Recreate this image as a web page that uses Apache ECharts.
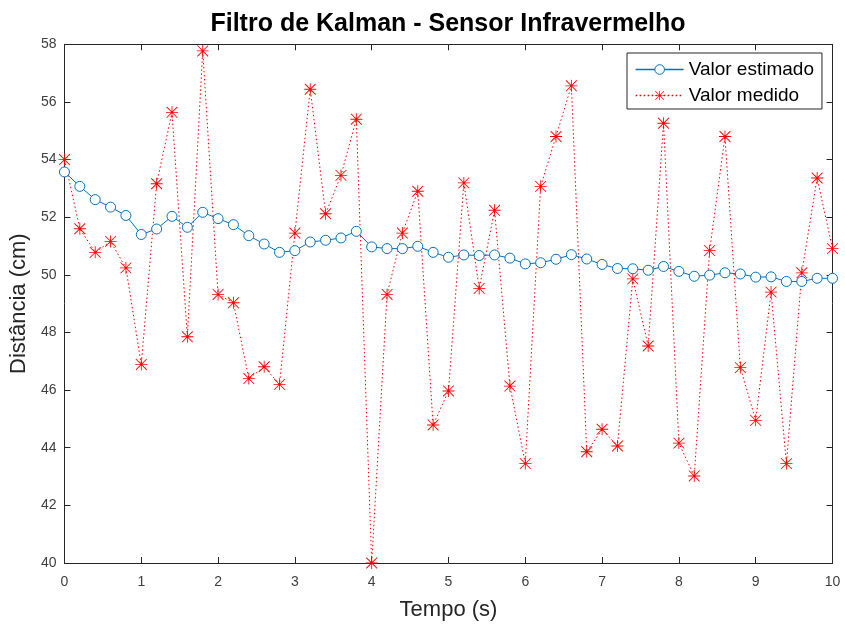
<!DOCTYPE html>
<html><head><meta charset="utf-8">
<script src="https://cdn.jsdelivr.net/npm/echarts@6/dist/echarts.min.js"></script>
<style>html,body{margin:0;padding:0;background:#fff}#c{width:845px;height:626px}</style>
</head><body><div id="c"></div>
<script>
const time = [0,0.2,0.4,0.6,0.8,1,1.2,1.4,1.6,1.8,2,2.2,2.4,2.6,2.8,3,3.2,3.4,3.6,3.8,4,4.2,4.4,4.6,4.8,5,5.2,5.4,5.6,5.8,6,6.2,6.4,6.6,6.8,7,7.2,7.4,7.6,7.8,8,8.2,8.4,8.6,8.8,9,9.2,9.4,9.6,9.8,10];
const estimado = [53.57,53.07,52.61,52.35,52.06,51.40,51.59,52.03,51.65,52.17,51.95,51.74,51.36,51.07,50.78,50.84,51.14,51.20,51.28,51.51,50.97,50.91,50.91,50.99,50.78,50.61,50.69,50.67,50.69,50.58,50.38,50.42,50.54,50.70,50.55,50.36,50.22,50.21,50.16,50.29,50.12,49.95,49.99,50.07,50.03,49.92,49.93,49.77,49.77,49.88,49.88];
const medido = [54.0,51.60,50.78,51.16,50.24,46.89,53.16,55.64,47.85,57.77,49.32,49.03,46.40,46.81,46.20,51.45,56.44,52.12,53.45,55.40,40.0,49.32,51.45,52.90,44.79,45.97,53.19,49.53,52.24,46.14,43.45,53.07,54.80,56.56,43.86,44.64,44.06,49.86,47.53,55.26,44.16,43.02,50.84,54.80,46.78,44.95,49.40,43.45,50.07,53.36,50.91];
const xTicks = [0,1,2,3,4,5,6,7,8,9,10];
const yTicks = [40,42,44,46,48,50,52,54,56,58];

const star = 'path://M9.3 0 L10.7 0 L10.7 20 L9.3 20 Z M0 9.3 L20 9.3 L20 10.7 L0 10.7 Z M1.5 0.5 L19.5 18.5 L18.5 19.5 L0.5 1.5 Z M18.5 0.5 L19.5 1.5 L1.5 19.5 L0.5 18.5 Z';
const axisColor = '#262626';
const labelColor = '#404040';
const blue = '#0072BD';
const red = '#FF0000';
const font = 'Liberation Sans, Arial, Helvetica, sans-serif';

const chart = echarts.init(document.getElementById('c'), null, {renderer: 'canvas'});
const xAxisBase = {
  type: 'value', min: xTicks[0], max: xTicks[xTicks.length-1], interval: 1,
  axisLine: {show: true, onZero: false, lineStyle: {color: axisColor, width: 1}},
  axisTick: {show: true, inside: true, length: 6, lineStyle: {color: axisColor}},
  splitLine: {show: false}
};
const yAxisBase = {
  type: 'value', min: yTicks[0], max: yTicks[yTicks.length-1], interval: 2,
  axisLine: {show: true, onZero: false, lineStyle: {color: axisColor, width: 1}},
  axisTick: {show: true, inside: true, length: 6, lineStyle: {color: axisColor}},
  splitLine: {show: false}
};
chart.setOption({
  animation: false,
  backgroundColor: '#fff',
  title: {
    text: 'Filtro de Kalman - Sensor Infravermelho',
    left: 443, top: 7, textAlign: 'center',
    textStyle: {fontFamily: font, fontSize: 25, fontWeight: 'bold', color: '#000'}
  },
  legend: {
    orient: 'vertical', left: 627, top: 53,
    itemWidth: 48, itemHeight: 12, itemGap: 7,
    padding: [7, 8, 4, 8],
    borderColor: axisColor, borderWidth: 1, backgroundColor: '#fff', borderRadius: 0,
    textStyle: {fontFamily: font, fontSize: 19, color: '#000'},
    data: [
      {name: 'Valor estimado', itemStyle: {color: '#fff', borderColor: blue, borderWidth: 1},
       lineStyle: {color: blue, width: 1.3, type: 'solid'}},
      {name: 'Valor medido', itemStyle: {color: red},
       lineStyle: {color: red, width: 1.3, type: [1.5, 2.5]}}
    ]
  },
  grid: {left: 63.5, right: 12.5, top: 44.3, bottom: 61.7, containLabel: false},
  xAxis: [
    Object.assign({}, xAxisBase, {
      position: 'bottom',
      name: 'Tempo (s)', nameLocation: 'middle', nameGap: 36,
      nameTextStyle: {fontFamily: font, fontSize: 22, color: axisColor},
      axisLabel: {show: true, margin: 12, color: labelColor, fontFamily: font, fontSize: 14}
    }),
    Object.assign({}, xAxisBase, {position: 'top', axisLabel: {show: false}})
  ],
  yAxis: [
    Object.assign({}, yAxisBase, {
      position: 'left',
      name: 'Distância (cm)', nameLocation: 'middle', nameGap: 31, nameRotate: 90,
      nameTextStyle: {fontFamily: font, fontSize: 22, color: axisColor},
      axisLabel: {show: true, margin: 8, color: labelColor, fontFamily: font, fontSize: 14}
    }),
    Object.assign({}, yAxisBase, {position: 'right', axisLabel: {show: false}})
  ],
  series: [
    {
      name: 'Valor estimado', type: 'line', xAxisIndex: 0, yAxisIndex: 0,
      data: time.map((t, i) => [t, estimado[i]]),
      symbol: 'circle', symbolSize: 10,
      lineStyle: {color: blue, width: 1},
      itemStyle: {color: '#fff', borderColor: blue, borderWidth: 1},
      z: 3
    },
    {
      name: 'Valor medido', type: 'line', xAxisIndex: 0, yAxisIndex: 0,
      data: time.map((t, i) => [t, medido[i]]),
      symbol: star, symbolSize: 12,
      lineStyle: {color: red, width: 1, type: [1.5, 2.5]},
      itemStyle: {color: red},
      z: 2
    }
  ]
});
</script>
</body></html>
